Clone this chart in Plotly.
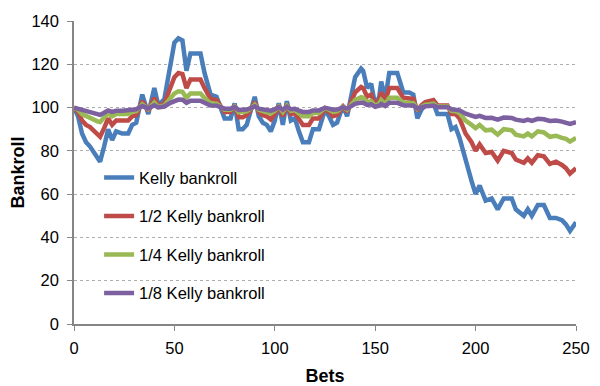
import plotly.graph_objects as go

bets = [0, 2, 4, 6, 8, 10, 12, 13, 15, 17, 19, 21, 24, 27, 29, 31, 34, 37, 40, 42, 45, 48, 50, 52, 54, 56, 58, 60, 63, 65,
        68, 71, 73, 75, 78, 80, 82, 84, 86, 88, 90, 92, 94, 96, 98, 100, 102, 104, 106, 108, 110, 112, 114, 117, 119, 122,
        125, 127, 129, 131, 134, 136, 138, 140, 143, 144, 146, 148, 150, 152, 153, 155, 157, 159, 161, 164, 167, 169, 171,
        173, 175, 177, 179, 181, 184, 186, 188, 190, 192, 195, 198, 200, 202, 205, 208, 211, 214, 218, 220, 224, 226, 228,
        231, 234, 237, 240, 243, 245, 247, 250]

kelly = [100, 96, 88, 84, 82, 79, 76, 75, 82, 90, 85, 89, 88, 88, 92, 93, 106, 97, 109, 101, 104, 118, 130, 132, 131, 117,
         125, 125, 125, 116, 106, 105, 100, 95, 95, 102, 90, 90, 92, 98, 105, 96, 93, 92, 89, 94, 102, 92, 103, 94, 95, 89,
         84, 84, 90, 90, 99, 96, 92, 93, 101, 96, 105, 114, 118, 117, 109, 111, 101, 105, 112, 104, 116, 116, 116, 107, 107,
         106, 95, 99, 101, 102, 102, 97, 97, 97, 90, 91, 86, 75, 66, 60, 64, 57, 58, 53, 58, 58, 53, 50, 53, 50, 55, 55, 49,
         49, 48, 46, 43, 47]

half_kelly = [100, 98, 94, 92, 91, 89, 87, 86.5, 90.5, 95, 92, 94, 94, 94, 96, 96.5, 103, 98.5, 104.5, 100.5, 102, 109, 114,
              116, 115.5, 109, 113, 113, 113, 109, 104, 103.5, 100.5, 98, 98, 101, 95.5, 95.5, 96.5, 99, 102.5, 98, 96.5, 96,
              94.5, 97, 101, 96, 101.5, 97, 97.5, 94.5, 92, 92, 95, 95, 99.5, 98, 96, 96.5, 100.5, 98, 102.5, 107, 109.5,
              109, 105, 106, 101.5, 103.5, 107, 103, 109, 109, 109, 104.5, 104.5, 104, 98.5, 101, 102.5, 103, 103.5, 101,
              101, 101, 97, 97, 95, 88, 84, 80, 83, 79, 79.5, 75.5, 80, 79, 76, 74.5, 76.5, 74.5, 78, 77.5, 74, 75, 73.5, 72,
              69.5, 72]

quarter_kelly = [100, 99, 97, 96, 95.5, 94.5, 93.5, 93.3, 95.3, 97.5, 96, 97, 97, 97, 98, 98.3, 101.5, 99.3, 102.3, 100.3,
                 101, 104.5, 106.5, 107.5, 107.3, 104.5, 106.5, 106.5, 106.5, 104.5, 102, 101.8, 100.3, 99, 99, 100.5, 97.8,
                 97.8, 98.3, 99.5, 101.3, 99, 98.3, 98, 97.3, 98.5, 100.5, 98, 100.8, 98.5, 98.8, 97.3, 96, 96, 97.5, 97.5,
                 99.8, 99, 98, 98.3, 100.3, 99, 101.3, 103.5, 104.8, 104.5, 102.5, 103, 100.8, 101.8, 103.5, 101.5, 104.5,
                 104.5, 104.5, 102.3, 102.3, 102, 99.3, 100.5, 101.3, 101.5, 101.8, 100.5, 100.5, 100.5, 98.5, 98.3, 97.5,
                 94, 92, 90.5, 92, 89.5, 89.8, 87.5, 90, 89.5, 87.5, 86.7, 88, 86.7, 89, 88.5, 86.5, 87, 86, 85.5, 84.3, 86]

eighth_kelly = [100, 99.5, 98.5, 98, 97.7, 97.2, 96.7, 96.6, 97.6, 98.7, 98, 98.5, 98.5, 98.5, 99, 99.2, 100.7, 99.6, 101.1,
                100.1, 100.5, 102.2, 103.2, 103.7, 103.6, 102.2, 103.2, 103.2, 103.2, 102.2, 101, 100.9, 100.1, 99.5, 99.5,
                100.2, 98.9, 98.9, 99.1, 99.7, 100.6, 99.5, 99.1, 99, 98.6, 99.2, 100.2, 99, 100.4, 99.2, 99.4, 98.6, 98, 98,
                98.7, 98.7, 99.9, 99.5, 99, 99.1, 100.1, 99.5, 100.6, 101.7, 102.3, 102.2, 101.2, 101.5, 100.4, 100.9, 101.7,
                100.7, 102.2, 102.2, 102.2, 101.1, 101.1, 101, 99.6, 100.2, 100.6, 100.7, 100.9, 100.2, 100.2, 100.2, 99.2,
                99, 98.7, 97.2, 96.3, 95.7, 96.2, 95.2, 95.3, 94.4, 95.4, 95.2, 94.4, 93.8, 94.4, 93.8, 94.8, 94.6, 93.8, 94,
                93.5, 93.2, 92.5, 93.3]

series_names = ["Kelly bankroll", "1/2 Kelly bankroll", "1/4 Kelly bankroll", "1/8 Kelly bankroll"]
series_values = [kelly, half_kelly, quarter_kelly, eighth_kelly]
colors = ["#4A7EBB", "#BE4B48", "#98B954", "#7D60A0"]

x_ticks = [0, 50, 100, 150, 200, 250]
y_ticks = [0, 20, 40, 60, 80, 100, 120, 140]

fig = go.Figure()
for i, (name, vals, col) in enumerate(zip(series_names, series_values, colors)):
    fig.add_trace(go.Scatter(x=bets, y=vals, mode="lines", name=name, legendgroup=str(i),
                             line=dict(color=col, width=4.5)))

FAM = "Liberation Sans, Arial, sans-serif"
axis_font = dict(family=FAM, size=16.5, color="#000000")
fig.update_layout(
    width=600, height=386,
    margin=dict(l=66, r=32, t=13, b=70),
    paper_bgcolor="white", plot_bgcolor="white",
    font=axis_font,
    showlegend=True,
    legend=dict(x=0.05, y=0.54, xanchor="left", yanchor="top", bgcolor="rgba(0,0,0,0)",
                font=dict(family=FAM, size=16.5, color="#000000"),
                traceorder="grouped", tracegroupgap=14, itemwidth=30),
    xaxis=dict(range=[0, 250], tickvals=x_ticks, showgrid=False, zeroline=False, automargin=False,
               showline=True, linecolor="#868686", linewidth=1.5, ticks="outside", ticklen=5,
               tickcolor="#868686", tickfont=axis_font, ticklabelstandoff=3,
               title=dict(text="<b>Bets</b>", font=dict(family=FAM, size=18, color="#000000"), standoff=14)),
    yaxis=dict(range=[0, 140], tickvals=y_ticks, showgrid=True, gridcolor="#ADADAD", griddash="dot", gridwidth=1,
               zeroline=False, showline=True, linecolor="#868686", linewidth=1.5, ticks="outside", ticklen=5,
               tickcolor="#868686", tickfont=axis_font, ticklabelstandoff=5, automargin=False,
               title=dict(text="<b>Bankroll</b>", font=dict(family=FAM, size=18, color="#000000"), standoff=6)),
)

fig.write_html("out.html")
